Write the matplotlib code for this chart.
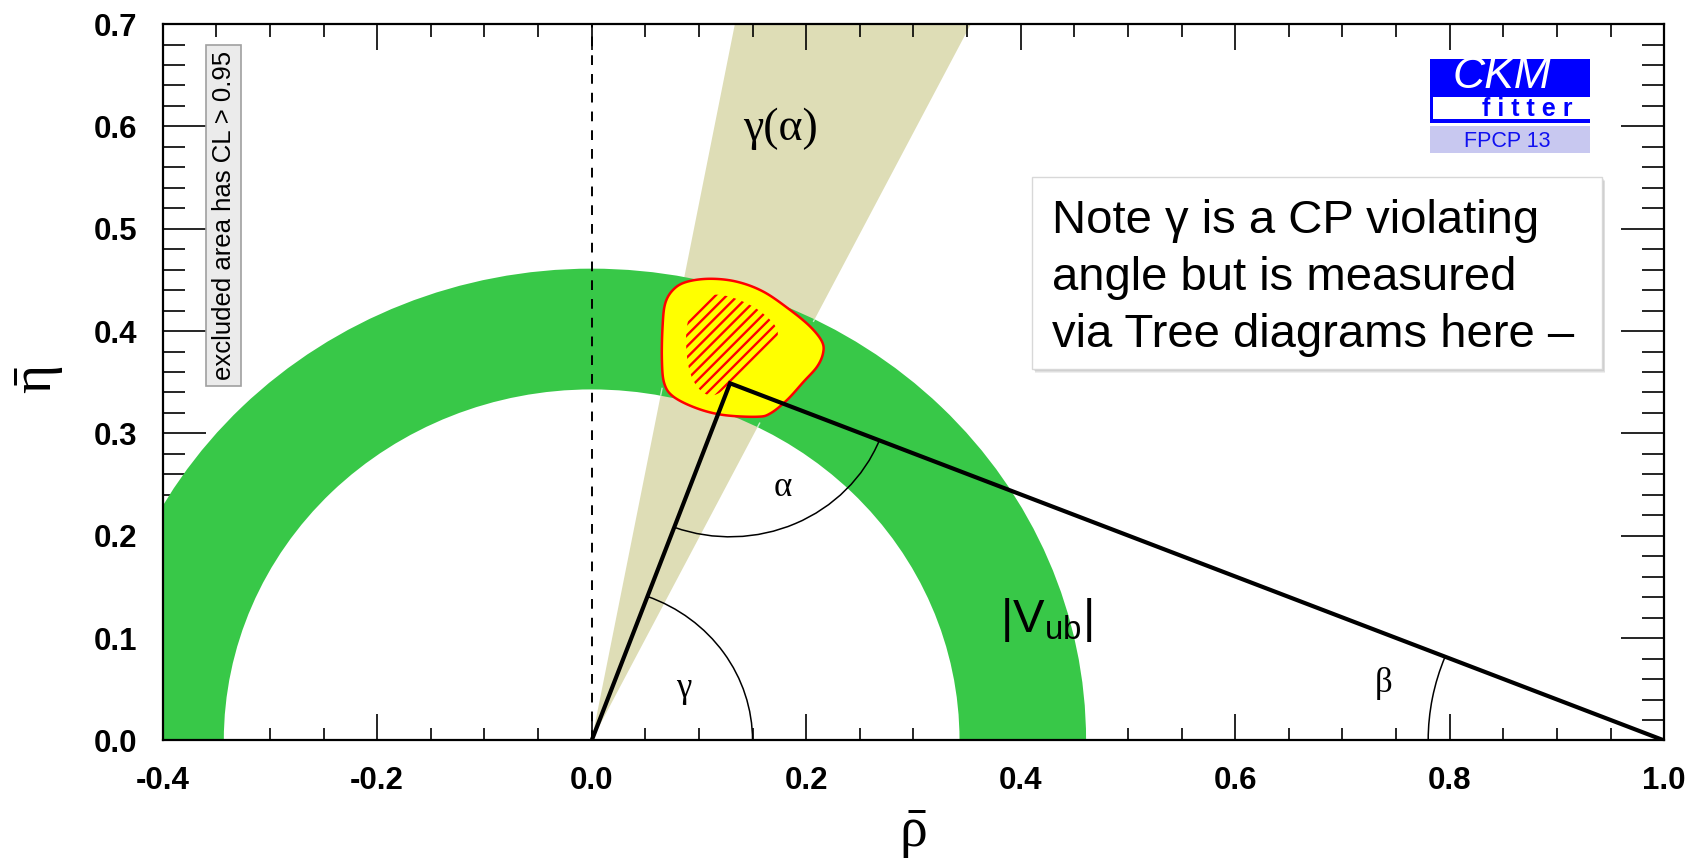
import numpy as np
import matplotlib
matplotlib.use("Agg")
import matplotlib.pyplot as plt
from matplotlib.patches import Wedge, Polygon, Rectangle, Arc
from matplotlib.ticker import MultipleLocator, FormatStrFormatter

plt.rcParams['font.family'] = ['Liberation Sans', 'DejaVu Sans']
plt.rcParams['axes.unicode_minus'] = False
plt.rcParams['mathtext.fontset'] = 'custom'
plt.rcParams['mathtext.rm'] = 'Liberation Serif'
plt.rcParams['mathtext.it'] = 'Liberation Serif:italic'
plt.rcParams['mathtext.sf'] = 'Liberation Sans'
plt.rcParams['hatch.linewidth'] = 1.7
plt.rcParams['lines.scale_dashes'] = False

# unitarity triangle apex (rho-bar, eta-bar)
apex = (0.129, 0.349)

# |Vub| constraint: annulus around the origin
vub_r_in = 0.343
vub_r_out = 0.461

# gamma(alpha) constraint: angular band from the origin, in degrees
gamma_band_deg = (63.2, 79.2)

# global fit, 95% CL contour
cl95_rho = [0.0686, 0.0764, 0.0889, 0.1106, 0.1355, 0.1603, 0.1852, 0.2039, 0.2148,
            0.2157, 0.2101, 0.1976, 0.1821, 0.1666, 0.1541, 0.1230, 0.0982, 0.0764,
            0.0677, 0.0655, 0.0661]
cl95_eta = [0.4271, 0.4408, 0.4482, 0.4511, 0.4482, 0.4384, 0.4205, 0.4042, 0.3896,
            0.3782, 0.3651, 0.3505, 0.3326, 0.3196, 0.3163, 0.3180, 0.3245, 0.3358,
            0.3489, 0.3717, 0.4042]

# global fit, 68% CL contour
cl68_rho = [0.0919, 0.1028, 0.1122, 0.1262, 0.1416, 0.1556, 0.1681, 0.1734, 0.1712,
            0.1603, 0.1448, 0.1292, 0.1183, 0.1090, 0.0997, 0.0926, 0.0889, 0.0882]
cl68_eta = [0.4157, 0.4286, 0.4352, 0.4342, 0.4286, 0.4205, 0.4091, 0.3993, 0.3880,
            0.3766, 0.3636, 0.3489, 0.3392, 0.3375, 0.3440, 0.3570, 0.3749, 0.3978]

# radii of the angle arcs
arc_r_gamma = 0.15
arc_r_alpha = 0.15
arc_r_beta = 0.22

GREEN = '#38C848'
TAN = '#DEDDB6'


def smooth_closed(x, y, n=14):
    """Closed Catmull-Rom spline through the contour points."""
    p = np.column_stack([x, y])
    m = len(p)
    t = np.linspace(0, 1, n, endpoint=False)[:, None]
    out = []
    for i in range(m):
        p0, p1, p2, p3 = p[i - 1], p[i], p[(i + 1) % m], p[(i + 2) % m]
        out.append(0.5 * (2 * p1 + (-p0 + p2) * t
                          + (2 * p0 - 5 * p1 + 4 * p2 - p3) * t ** 2
                          + (-p0 + 3 * p1 - 3 * p2 + p3) * t ** 3))
    return np.vstack(out)


fig = plt.figure(figsize=(17, 8.59), dpi=100)
ax = fig.add_axes([0.0957, 0.138, 0.8832, 0.834])
ax.set_xlim(-0.4, 1.0)
ax.set_ylim(0.0, 0.7)

# gamma(alpha) band
R = 1.2
a1, a2 = np.radians(gamma_band_deg)
band = Polygon([(0, 0), (R * np.cos(a1), R * np.sin(a1)), (R * np.cos(a2), R * np.sin(a2))],
               closed=True, fc=TAN, ec='none', zorder=1)
ax.add_patch(band)

# |Vub| annulus
ring = Wedge((0, 0), vub_r_out, 0, 180, width=vub_r_out - vub_r_in, fc=GREEN, ec='none', zorder=2)
ax.add_patch(ring)

# faint band edges showing through the annulus
for a in (a1, a2):
    ln, = ax.plot([0, R * np.cos(a)], [0, R * np.sin(a)], color='white', lw=1.0,
                  ls=(0, (6, 5)), alpha=0.7, zorder=2.5)
    ln.set_clip_path(ring)

# global fit regions
c95 = smooth_closed(cl95_rho, cl95_eta)
ax.add_patch(Polygon(c95, closed=True, fc='#FFFF00', ec='#FF0000', lw=1.8, zorder=3))
c68 = smooth_closed(cl68_rho, cl68_eta)
ax.add_patch(Polygon(c68, closed=True, fill=False, ec='#FF0000', lw=0, hatch='///', zorder=3.5))

# rho = 0 reference line
ax.axvline(0.0, color='black', lw=1.4, ls=(0, (7, 6.5)), zorder=4)

# unitarity triangle
ax.plot([0.0, apex[0], 1.0], [0.0, apex[1], 0.0], color='black', lw=3.0,
        solid_joinstyle='miter', zorder=5)

# angle arcs
ang_side = np.degrees(np.arctan2(apex[1], apex[0]))
ang_base = np.degrees(np.arctan2(-apex[1], 1.0 - apex[0]))
ax.add_patch(Arc((0, 0), 2 * arc_r_gamma, 2 * arc_r_gamma, theta1=0, theta2=ang_side,
                 color='black', lw=1.1, zorder=5))
ax.add_patch(Arc(apex, 2 * arc_r_alpha, 2 * arc_r_alpha, theta1=180 + ang_side, theta2=360 + ang_base,
                 color='black', lw=1.1, zorder=5))
ax.add_patch(Arc((1.0, 0.0), 2 * arc_r_beta, 2 * arc_r_beta, theta1=180 + ang_base, theta2=180,
                 color='black', lw=1.1, zorder=5))

# labels on the plot
serif = ['Liberation Serif', 'DejaVu Serif']
ax.text(0.086, 0.051, 'γ', family=serif, fontsize=25, ha='center', va='center', zorder=6)
ax.text(0.178, 0.247, 'α', family=serif, fontsize=25, ha='center', va='center', zorder=6)
ax.text(0.738, 0.056, 'β', family=serif, fontsize=25, ha='center', va='center', zorder=6)
ax.text(0.176, 0.598, 'γ(α)', family=serif, fontsize=33, ha='center', va='center', zorder=6)
ax.text(0.424, 0.118, r'$\mathsf{|V_{ub}|}$', fontsize=34, ha='center', va='center', zorder=6)

ax.text(0.0406, 0.733, 'excluded area has CL > 0.95', rotation=90, transform=ax.transAxes,
        ha='center', va='center', fontsize=18.5, zorder=6,
        bbox=dict(boxstyle='square,pad=0.22', fc='#EBEBEB', ec='#A0A0A0', lw=1.2))

# CKMfitter logo
ax.add_patch(Rectangle((0.8441, 0.8617), 0.1066, 0.0893, transform=ax.transAxes,
                       fc='#0000FF', ec='none', zorder=6))
ax.add_patch(Rectangle((0.8461, 0.8673), 0.1046, 0.0307, transform=ax.transAxes,
                       fc='white', ec='none', zorder=6.5))
ax.add_patch(Rectangle((0.8441, 0.8198), 0.1066, 0.0377, transform=ax.transAxes,
                       fc='#C8C8F0', ec='none', zorder=6))
ax.text(0.8918, 0.9262, 'CKM', transform=ax.transAxes, color='white', style='italic',
        fontsize=32, ha='center', va='center', zorder=7)
ax.text(0.9091, 0.8819, 'f i t t e r', transform=ax.transAxes, color='#0000FF',
        fontweight='bold', fontsize=18, ha='center', va='center', zorder=7)
ax.text(0.8957, 0.836, 'FPCP 13', transform=ax.transAxes, color='#1010F0',
        fontsize=15.5, ha='center', va='center', zorder=7)

# note box with soft shadow
bx, by, bw, bh = 0.579, 0.518, 0.3797, 0.268
for k, al in enumerate([0.10, 0.10, 0.12, 0.15]):
    off = 0.0045 - 0.001 * k
    ax.add_patch(Rectangle((bx + off * 0.5, by - off), bw, bh, transform=ax.transAxes,
                           fc='#606060', ec='none', alpha=al, zorder=7.5))
ax.add_patch(Rectangle((bx, by), bw, bh, transform=ax.transAxes, fc='white',
                       ec='#D8D8D8', lw=1.0, zorder=8))
ax.text(0.592, 0.646, 'Note γ is a CP violating\nangle but is measured\nvia Tree diagrams here –',
        transform=ax.transAxes, fontsize=34, ha='left', va='center', linespacing=1.38, zorder=9)

# axes styling
ax.xaxis.set_major_locator(MultipleLocator(0.2))
ax.xaxis.set_minor_locator(MultipleLocator(0.05))
ax.yaxis.set_major_locator(MultipleLocator(0.1))
ax.yaxis.set_minor_locator(MultipleLocator(0.02))
ax.xaxis.set_major_formatter(FormatStrFormatter('%.1f'))
ax.yaxis.set_major_formatter(FormatStrFormatter('%.1f'))
ax.tick_params(which='both', direction='in', top=True, right=True, width=1.2, pad=18.5,
               labelsize=22.5)
ax.tick_params(axis='x', which='major', length=18.7)
ax.tick_params(axis='x', which='minor', length=9)
ax.tick_params(axis='y', which='major', length=31)
ax.tick_params(axis='y', which='minor', length=15.8)
for lab in ax.get_xticklabels() + ax.get_yticklabels():
    lab.set_fontweight('bold')
for sp in ax.spines.values():
    sp.set_linewidth(1.6)
    sp.set_zorder(10)

ax.set_xlabel(r'$\bar{\mathrm{\rho}}$', fontsize=40, va='center')
ax.xaxis.set_label_coords(0.5, -0.132)
ax.set_ylabel(r'$\bar{\mathrm{\eta}}$', fontsize=40, va='center')
ax.yaxis.set_label_coords(-0.0823, 0.503)

fig.savefig('out.png', dpi=100)
